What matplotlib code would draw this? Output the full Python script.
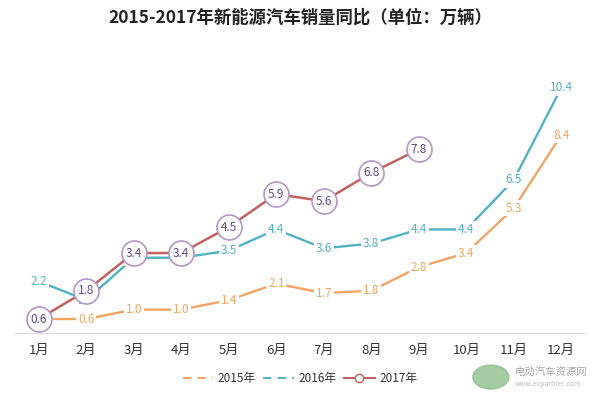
import matplotlib
matplotlib.use("Agg")
import matplotlib.pyplot as plt
from matplotlib.lines import Line2D

plt.rcParams['font.family'] = ['Noto Sans CJK SC', 'DejaVu Sans']

months = ["1月", "2月", "3月", "4月", "5月", "6月", "7月", "8月", "9月", "10月", "11月", "12月"]
sales_2015 = [0.6, 0.6, 1.0, 1.0, 1.4, 2.1, 1.7, 1.8, 2.8, 3.4, 5.3, 8.4]
sales_2016 = [2.2, 1.4, 3.2, 3.2, 3.5, 4.4, 3.6, 3.8, 4.4, 4.4, 6.5, 10.4]
sales_2017 = [0.6, 1.8, 3.4, 3.4, 4.5, 5.9, 5.6, 6.8, 7.8]

c15 = "#F2A462"
c16 = "#4FB3C3"
c17 = "#C2625F"
c17_edge = "#B597C6"
c17_text = "#5B4B8E"

fig = plt.figure(figsize=(6.0, 3.99), dpi=100)
ax = fig.add_axes([0.025, 0.165, 0.95, 0.709])

x = list(range(len(months)))
ax.plot(x, sales_2015, color=c15, lw=1.7, zorder=2)
ax.plot(x, sales_2016, color=c16, lw=1.7, zorder=3)
ax.plot(x[:len(sales_2017)], sales_2017, color=c17, lw=1.8, zorder=4)

box = dict(boxstyle="square,pad=0.15", fc="white", ec="none")
for i, v in enumerate(sales_2015):
    ax.text(i, v, f"{v:.1f}", color=c15, fontsize=8.5, ha="center", va="center",
            fontweight="medium", bbox=box, zorder=5)
for i, v in enumerate(sales_2016):
    ax.text(i, v, f"{v:.1f}", color=c16, fontsize=8.5, ha="center", va="center",
            fontweight="medium", bbox=box, zorder=6)
ax.plot(x[:len(sales_2017)], sales_2017, ls="none", marker="o", ms=18,
        mfc="white", mec=c17_edge, mew=1.2, zorder=7)
for i, v in enumerate(sales_2017):
    ax.text(i, v, f"{v:.1f}", color=c17_text, fontsize=8.5, ha="center", va="center",
            fontweight="medium", zorder=8)

ax.set_xlim(-0.5, 11.5)
ax.set_ylim(0, 12)
ax.set_xticks(x)
ax.set_xticklabels(months, fontsize=9.5, color="#333333")
ax.set_yticks([])
for s in ["top", "right", "left"]:
    ax.spines[s].set_visible(False)
ax.spines["bottom"].set_color("#dddddd")
ax.tick_params(axis="x", length=0, pad=8)

fig.text(0.5, 0.955, "2015-2017年新能源汽车销量同比（单位：万辆）", ha="center",
         va="center", fontsize=12.5, fontweight="bold", color="#222222")

handles = [
    Line2D([], [], color=c15, lw=1.5, ls=(0, (4, 3))),
    Line2D([], [], color=c16, lw=1.5, ls=(0, (4, 3))),
    Line2D([], [], color=c17, lw=1.5, marker="o", ms=6, mfc="white", mec=c17),
]
fig.legend(handles, ["2015年", "2016年", "2017年"], loc="center", ncol=3,
           bbox_to_anchor=(0.5, 0.052), frameon=False, fontsize=8.5,
           handlelength=2.6, columnspacing=0.6, handletextpad=0.4,
           labelcolor="#333333")

# watermark
fig.patches.append(plt.Circle((0.818, 0.055), 0.03, transform=fig.transFigure,
                              color="#8CC08C", alpha=0.8))
fig.text(0.858, 0.068, "电动汽车资源网", fontsize=7.5, color="#aaaaaa", va="center")
fig.text(0.858, 0.038, "www.evpartner.com", fontsize=5, color="#bbbbbb", va="center")

fig.savefig("out.png", dpi=100)
